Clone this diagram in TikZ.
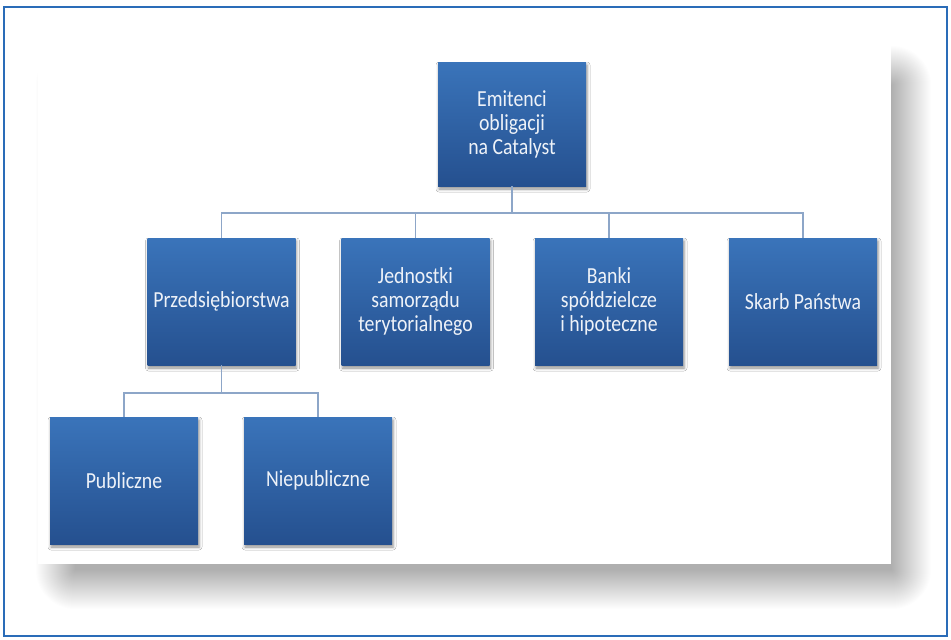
\documentclass[tikz,border=0pt]{standalone}
\usepackage{fontspec}
\setmainfont{Carlito}[FakeStretch=0.86]
\usetikzlibrary{shadows.blur}
\definecolor{boxtop}{HTML}{3A74BA}
\definecolor{boxbot}{HTML}{25508F}
\definecolor{conncol}{HTML}{8DA6C8}
\definecolor{framecol}{HTML}{2A6CB8}
\definecolor{txtcol}{HTML}{EEF2F8}
\tikzset{
  orgbox/.style={rectangle, minimum width=148pt, minimum height=127pt, inner sep=2pt,
    top color=boxtop, bottom color=boxbot, draw=none, text=txtcol, align=center,
    font=\fontsize{23}{24}\selectfont,
    blur shadow={shadow xshift=1pt, shadow yshift=-3pt, shadow blur radius=3pt, shadow opacity=45}},
  conn/.style={draw=conncol, line width=1.8pt},
  shadowlayer/.style={fill=black, fill opacity=0.008, draw=none},
}
\begin{document}
\begin{tikzpicture}[x=1pt, y=-1pt]
\useasboundingbox (0,0) rectangle (951,640);
\fill[white] (0,0) rectangle (951,640);
% soft shadow of the panel
\foreach \i in {0,...,39} {
  \pgfmathsetmacro{\d}{1.0*\i}
  \fill[shadowlayer, rounded corners=\d pt] (75-\d,85-\d) rectangle (892+\d,570+\d);
}
\fill[white] (38,46) rectangle (891,564);
\draw[framecol, line width=2pt] (4,7) rectangle (947,636);
\node[orgbox, minimum height=124pt] (emit) at (512,124) {Emitenci\\obligacji\\na Catalyst};
\node[orgbox] (prz) at (221.5,301.5) {Przedsiębiorstwa};
\node[orgbox] (jed) at (415.5,301.5) {Jednostki\\samorządu\\terytorialnego};
\node[orgbox] (ban) at (609,301.5) {Banki\\spółdzielcze\\i hipoteczne};
\node[orgbox] (sk) at (803,301.5) {Skarb Państwa};
\node[orgbox] (pub) at (124,480.5) {Publiczne};
\node[orgbox] (niep) at (318,480.5) {Niepubliczne};
\coordinate (busA) at (0,213);
\coordinate (busB) at (0,393);
\draw[conn] (emit.south) -- (emit.south |- busA);
\draw[conn] (prz.north) -- (prz.north |- busA) -| (sk.north);
\draw[conn] (jed.north) -- (jed.north |- busA);
\draw[conn] (ban.north) -- (ban.north |- busA);
\draw[conn] (prz.south) -- (prz.south |- busB);
\draw[conn] (pub.north) -- (pub.north |- busB) -| (niep.north);
\end{tikzpicture}
\end{document}
